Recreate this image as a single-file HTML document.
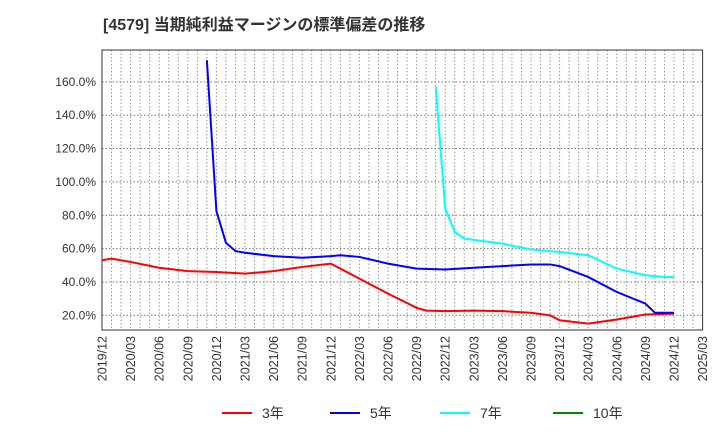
<!DOCTYPE html>
<html><head><meta charset="utf-8"><style>
body{margin:0;background:#fff;font-family:"Liberation Sans","Noto Sans CJK JP",sans-serif;}
</style></head><body>
<svg width="720" height="440" xmlns="http://www.w3.org/2000/svg">
<text x="103" y="30" font-size="16" font-weight="bold" fill="#333">[4579]  当期純利益マージンの標準偏差の推移</text>
<g id="grid"></g><g id="axes"></g><g id="series"></g><g id="legend"></g>
</svg>
<script>
const xTickLabels=["2019/12","2020/03","2020/06","2020/09","2020/12","2021/03","2021/06","2021/09","2021/12","2022/03","2022/06","2022/09","2022/12","2023/03","2023/06","2023/09","2023/12","2024/03","2024/06","2024/09","2024/12","2025/03"];
const yTicks=[20,40,60,80,100,120,140,160];
const m3=[0,1,3,6,9,12,15,18,21,24,27,30,33,34,36,39,42,45,47,48,51,54,57,60];
const v3=[53,54,52,48.5,46.5,46,45,46.5,49,51,42,33,24.5,22.8,22.5,22.8,22.5,21.5,20,17,15,17.5,20.5,21];
const m5=[11,12,13,14,15,18,21,24,25,27,30,33,36,39,42,45,47,48,51,54,57,58,60];
const v5=[173,82.5,63.5,58.5,57.5,55.5,54.5,55.5,56,55,51,48,47.5,48.5,49.5,50.5,50.5,49.5,43,34,27,21.5,21.5];
const m7=[35,36,37,38,42,45,48,51,54,57,59,60];
const v7=[157,84,70,66,63,59.5,58,56,48,44,43,43];
const m10=[];const v10=[];
const ns="http://www.w3.org/2000/svg";
const X0=102,X1=702.6,Y0=50,Y1=330;
const xs=m=>X0+m*(X1-X0)/63;
const ys=v=>315.3-(v-20)*33.35/20;
function mk(t,a,p){const e=document.createElementNS(ns,t);for(const k in a)e.setAttribute(k,a[k]);p.appendChild(e);return e;}
const grid=document.getElementById('grid'),axes=document.getElementById('axes'),ser=document.getElementById('series'),leg=document.getElementById('legend');
for(let m=1;m<63;m++){const l=mk('line',{x1:xs(m),x2:xs(m),y1:Y0,y2:Y1,stroke:'#999','stroke-dasharray':'1.5,2','stroke-width':1},grid);

}
yTicks.forEach(v=>{const l=mk('line',{x1:X0,x2:X1,y1:ys(v),y2:ys(v),stroke:'#777','stroke-dasharray':'1.5,2','stroke-width':1},grid);


const t=mk('text',{x:X0-6,y:ys(v)+4,'text-anchor':'end','font-size':12,fill:'#333'},axes);t.textContent=v.toFixed(1)+'%';

});
const box=mk('rect',{x:X0,y:Y0,width:X1-X0,height:Y1-Y0,fill:'none',stroke:'#333','stroke-width':1},axes);


xTickLabels.forEach((s,i)=>{const x=xs(i*3);const t=mk('text',{x:0,y:0,transform:`translate(${x+4.5},${Y1+6}) rotate(-90)`,'text-anchor':'end','font-size':12.5,fill:'#333'},axes);t.textContent=s;

});
function line(ms,vs,c,n){if(!ms.length)return;const p=mk('polyline',{points:ms.map((m,i)=>xs(m)+','+ys(vs[i])).join(' '),fill:'none',stroke:c,'stroke-width':2},ser);

}
line(m3,v3,'#f00','series-3y');line(m7,v7,'#0ff','series-7y');line(m5,v5,'#00f','series-5y');line(m10,v10,'#080','series-10y');
[['3年','#f00',222],['5年','#00f',330],['7年','#0ff',440],['10年','#080',553]].forEach(([s,c,x])=>{
const g=mk('g',{},leg);

mk('line',{x1:x,x2:x+30,y1:413,y2:413,stroke:c,'stroke-width':2},g);
const t=mk('text',{x:x+40,y:418,'font-size':14,fill:'#333'},g);t.textContent=s;});
</script>
</body></html>
